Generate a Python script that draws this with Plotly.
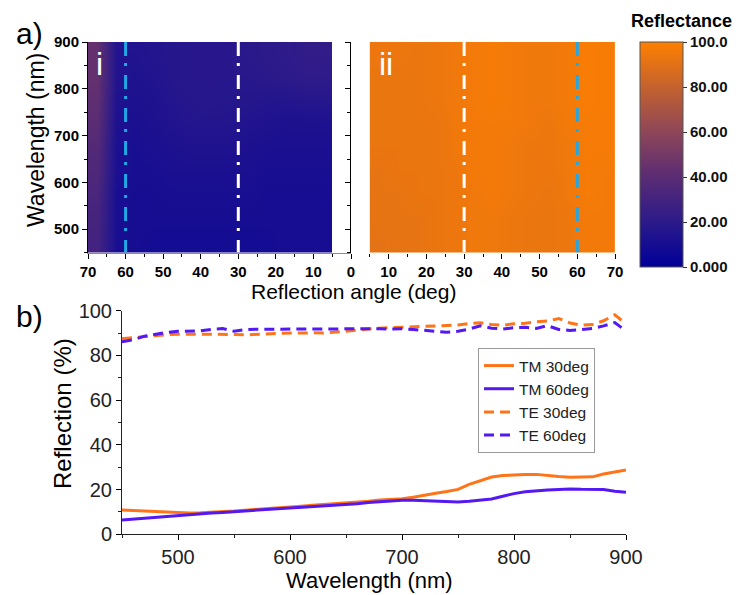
import plotly.graph_objects as go

# ---------------- data ----------------
angle_edges = [5, 10, 15, 20, 25, 30, 35, 40, 45, 50, 55, 60, 65, 70]
wl_edges = [450, 500, 550, 600, 650, 700, 750, 800, 850, 900]

# panel i (rows: 475 ... 875 nm, cols: 7.5 ... 67.5 deg)
z_left = [
    [10, 10, 10, 9, 9, 9, 9, 9, 9, 9, 10, 11, 30],
    [10, 10, 10, 10, 10, 10, 10, 10, 10, 10, 10, 11, 31],
    [10, 10, 10, 10, 11, 11, 11, 11, 11, 10, 10, 11, 33],
    [11, 11, 11, 11, 12, 12, 12, 12, 12, 11, 11, 12, 35],
    [12, 12, 12, 12, 13, 14, 14, 14, 13, 12, 11, 12, 37],
    [13, 13, 13, 14, 15, 16, 16, 16, 15, 13, 12, 13, 40],
    [17, 17, 16, 16, 17, 17, 18, 17, 16, 14, 13, 14, 42],
    [21, 21, 20, 19, 18, 18, 18, 18, 17, 15, 14, 15, 44],
    [22, 22, 21, 20, 19, 18, 18, 18, 17, 16, 15, 15, 44],
]
# panel ii
z_right = [
    [91, 92, 92, 93, 94, 95, 95, 94, 93, 93, 94, 96, 96],
    [92, 92, 92, 93, 94, 95, 95, 94, 93, 93, 94, 96, 96],
    [92, 92, 93, 93, 94, 95, 96, 95, 94, 93, 95, 97, 96],
    [92, 93, 93, 93, 94, 96, 96, 95, 94, 94, 95, 97, 96],
    [93, 93, 93, 93, 95, 96, 96, 95, 94, 94, 95, 97, 97],
    [93, 93, 93, 93, 95, 96, 96, 96, 95, 94, 96, 97, 97],
    [93, 93, 93, 94, 95, 96, 97, 96, 95, 95, 96, 98, 97],
    [93, 93, 93, 94, 95, 96, 97, 96, 95, 95, 96, 98, 97],
    [94, 94, 93, 94, 95, 96, 97, 96, 95, 95, 96, 98, 97],
]

wavelength = list(range(450, 901, 10))
tm_30 = [10.9, 10.7, 10.5, 10.2, 9.8, 9.6, 9.5, 9.6, 9.8, 10.1,
         10.4, 10.8, 11.1, 11.5, 11.9, 12.3, 12.6, 13.0, 13.3, 13.7,
         14.1, 14.5, 14.8, 15.3, 15.6, 15.9, 16.6, 17.6, 18.4, 19.1,
         20.1, 22.3, 24.0, 25.6, 26.3, 26.6, 26.7, 26.8, 26.2, 25.8,
         25.5, 25.6, 25.7, 27.0, 28.0, 28.8]
tm_60 = [6.4, 6.8, 7.2, 7.7, 8.2, 8.6, 8.9, 9.2, 9.5, 9.8,
         10.1, 10.4, 10.7, 11.0, 11.3, 11.6, 11.9, 12.2, 12.5, 12.9,
         13.3, 13.7, 14.2, 14.6, 15.0, 15.2, 15.2, 15.0, 14.8, 14.6,
         14.5, 14.8, 15.3, 15.8, 17.0, 18.2, 19.0, 19.5, 19.8, 20.0,
         20.3, 20.1, 19.9, 20.0, 19.3, 18.8]
te_30 = [87.5, 88.0, 88.5, 88.9, 89.3, 89.5, 89.5, 89.4, 89.6, 89.5,
         89.4, 89.2, 89.5, 89.8, 89.9, 90.0, 90.2, 90.1, 90.0, 90.3,
         90.8, 91.3, 91.8, 92.2, 92.4, 92.6, 92.5, 92.8, 93.0, 93.3,
         93.6, 94.3, 94.6, 93.8, 93.5, 94.2, 94.4, 95.0, 95.4, 96.5,
         94.5, 93.5, 93.8, 95.5, 98.2, 94.0]
te_60 = [86.1, 87.0, 88.6, 89.6, 90.3, 90.8, 90.9, 91.0, 91.6, 92.0,
         90.8, 91.5, 91.7, 91.8, 91.8, 91.7, 91.8, 91.8, 91.7, 91.8,
         91.9, 92.0, 92.0, 91.9, 91.8, 91.9, 91.6, 91.2, 90.6, 90.4,
         90.8, 91.8, 93.2, 92.2, 91.8, 92.4, 92.6, 92.1, 93.3, 91.6,
         91.2, 91.7, 92.0, 93.2, 94.7, 90.9]

series_names = ["TM 30deg", "TM 60deg", "TE 30deg", "TE 60deg"]
cbar_vals = [0, 20, 40, 60, 80, 100]
cbar_text = ["0.000", "20.00", "40.00", "60.00", "80.00", "100.0"]

# ---------------- layout helpers ----------------
W, H = 741, 595
OFF = 8  # page body margin of the html page
def px(x):
    return (x - OFF) / W
def py(y):
    return 1 - (y - OFF) / H

FONT = "Liberation Sans, Arial, sans-serif"
ORANGE = "#ff7418"
BLUE = "#5418f2"
CYAN = "#22a7e6"

fig = go.Figure()

fig.add_trace(go.Heatmap(x=angle_edges, y=wl_edges, z=z_left, zsmooth="best",
                         coloraxis="coloraxis", xaxis="x", yaxis="y",
                         hoverinfo="skip"))
fig.add_trace(go.Heatmap(x=angle_edges, y=wl_edges, z=z_right, zsmooth="best",
                         coloraxis="coloraxis", xaxis="x2", yaxis="y2",
                         hoverinfo="skip"))

line_data = [tm_30, tm_60, te_30, te_60]
colors = [ORANGE, BLUE, ORANGE, BLUE]
dashes = ["solid", "solid", "10px,6px", "10px,6px"]
for name, vals, c, d in zip(series_names, line_data, colors, dashes):
    fig.add_trace(go.Scatter(x=wavelength, y=vals, mode="lines", name=name,
                             line=dict(color=c, width=3, dash=d),
                             xaxis="x3", yaxis="y3"))

top_tick = dict(family=FONT, size=15, color="black", weight="bold")
bot_tick = dict(family=FONT, size=20, color="#222")

common = dict(showgrid=False, zeroline=False, ticks="outside", ticklen=5,
              tickwidth=1, tickcolor="black")

fig.update_layout(
    width=W, height=H,
    margin=dict(l=0, r=0, t=0, b=0, autoexpand=False),
    paper_bgcolor="white", plot_bgcolor="rgba(0,0,0,0)",
    showlegend=True,
    xaxis=dict(domain=[px(88), px(351)], range=[70, 0], anchor="y",
               tickvals=[70, 60, 50, 40, 30, 20, 10], tickfont=top_tick,
               showline=True, linecolor="#8a8a9a", layer="below traces",
               minor=dict(dtick=5, tick0=0, ticks="outside", ticklen=3,
                          tickcolor="black"),
               **common),
    yaxis=dict(domain=[py(252.6), py(42)], range=[450, 900], anchor="x",
               tickvals=[500, 600, 700, 800, 900], tickfont=top_tick,
               showline=True, linecolor="black",
               minor=dict(dtick=50, tick0=0, ticks="outside", ticklen=3,
                          tickcolor="black"),
               **common),
    xaxis2=dict(domain=[px(351), px(615)], range=[0, 70], anchor="y2",
                tickvals=[0, 10, 20, 30, 40, 50, 60, 70], tickfont=top_tick,
                showline=False,
                minor=dict(dtick=5, tick0=0, ticks="outside", ticklen=3,
                           tickcolor="black"),
                **common),
    yaxis2=dict(domain=[py(252.6), py(42)], range=[450, 900], anchor="x2",
                showticklabels=False, showline=True, linecolor="black",
                tickvals=[500, 600, 700, 800, 900],
                minor=dict(dtick=50, tick0=0, ticks="outside", ticklen=3,
                           tickcolor="black"),
                **common),
    xaxis3=dict(domain=[px(122), px(626)], range=[450, 900], anchor="y3",
                tickvals=[500, 600, 700, 800, 900], tickfont=bot_tick,
                showline=True, linecolor="#222",
                minor=dict(dtick=50, tick0=0, ticks="outside", ticklen=3,
                           tickcolor="#222"),
                **common),
    yaxis3=dict(domain=[py(534.3), py(310.7)], range=[0, 100], anchor="x3",
                tickvals=[0, 20, 40, 60, 80, 100], tickfont=bot_tick,
                showline=True, linecolor="#222",
                minor=dict(dtick=10, tick0=0, ticks="outside", ticklen=3,
                           tickcolor="#222"),
                **common),
    coloraxis=dict(
        cmin=0, cmax=100,
        colorscale=[[0.0, "#000099"], [0.2, "#2c1a8a"], [0.4, "#5a2c74"],
                    [0.6, "#8e4658"], [0.8, "#c4622e"], [1.0, "#ff8000"]],
        colorbar=dict(x=px(640), xanchor="left", y=py(42), yanchor="top",
                      len=225, lenmode="pixels", thickness=43,
                      thicknessmode="pixels", xpad=0, ypad=0,
                      outlinewidth=1, outlinecolor="#555",
                      tickvals=cbar_vals, ticktext=cbar_text,
                      ticks="outside", ticklen=4, tickcolor="#333",
                      tickfont=dict(family=FONT, size=15, color="#111",
                                    weight="bold")),
    ),
    legend=dict(x=px(478), y=py(348), xanchor="left", yanchor="top",
                bgcolor="white", bordercolor="#999", borderwidth=1,
                font=dict(family=FONT, size=15.5, color="#222"),
                tracegroupgap=0),
)

# dash-dot guide lines
guides = [("x", "y", 60, CYAN), ("x", "y", 30, "white"),
          ("x2", "y2", 30, "white"), ("x2", "y2", 60, CYAN)]
for xr, yr, xv, c in guides:
    fig.add_shape(type="line", xref=xr, yref=yr, x0=xv, x1=xv, y0=900, y1=450,
                  line=dict(color=c, width=3, dash="14px,7px,3px,9px"))

ann = []
def text(x, y, s, size, color="black", angle=0, bold=False, xanchor="center"):
    f = dict(family=FONT, size=size, color=color)
    if bold:
        f["weight"] = "bold"
    ann.append(dict(x=px(x), y=py(y), xref="paper", yref="paper", text=s,
                    showarrow=False, font=f, textangle=angle,
                    xanchor=xanchor, yanchor="middle"))

text(29, 34, "a)", 30)
text(29, 316, "b)", 30)
text(99, 64, "i", 32, color="white")
text(386, 64, "ii", 32, color="white")
text(681, 21, "Reflectance", 18, bold=True)
text(36, 140, "Wavelength (nm)", 23, angle=-90)
text(353, 291, "Reflection angle (deg)", 21)
text(62, 413, "Reflection (%)", 24, angle=-90)
text(369, 580, "Wavelength (nm)", 22)
fig.update_layout(annotations=ann)

fig.write_html("out.html")
